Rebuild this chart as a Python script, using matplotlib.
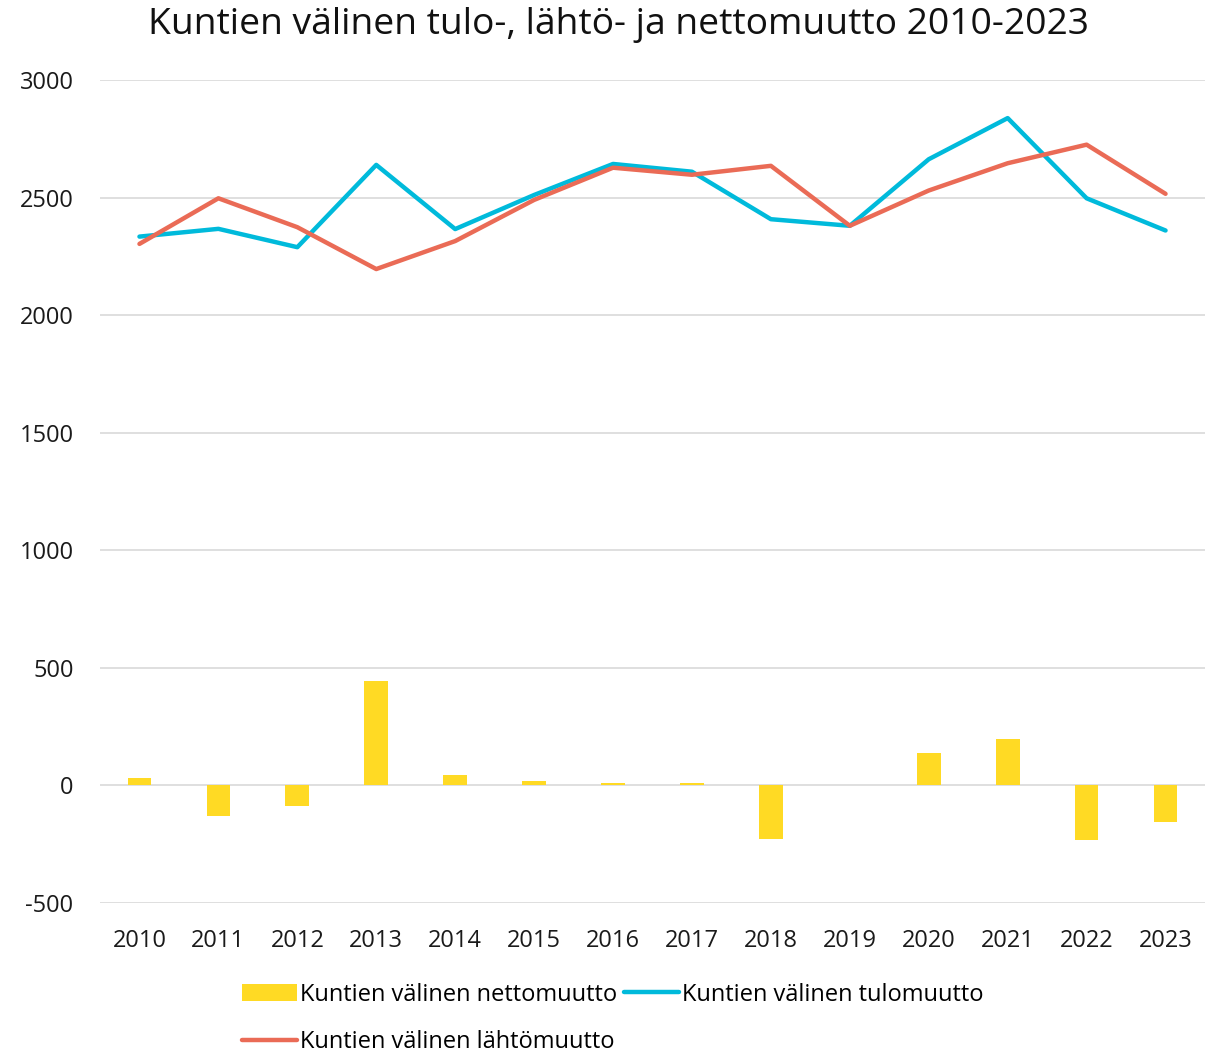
import matplotlib.pyplot as plt
import numpy as np

plt.rcParams['font.family'] = ['Open Sans', 'DejaVu Sans']
plt.rcParams['axes.unicode_minus'] = False

# Data
years = ['2010', '2011', '2012', '2013', '2014', '2015', '2016',
         '2017', '2018', '2019', '2020', '2021', '2022', '2023']
netto = [30, -132, -86, 444, 46, 20, 12, 9, -226, 0, 136, 196, -231, -157]
tulo = [2334, 2367, 2289, 2639, 2366, 2511, 2643,
        2610, 2408, 2380, 2663, 2838, 2497, 2360]
lahto = [2303, 2497, 2374, 2196, 2315, 2490, 2627,
         2597, 2635, 2380, 2530, 2646, 2725, 2516]

fig = plt.figure(figsize=(12.16, 10.53), dpi=100)
ax = fig.add_axes([100 / 1216, 1 - 903 / 1053, 1105 / 1216, 823 / 1053])

x = np.arange(len(years))
ax.bar(x, netto, width=0.3, color='#FFDA24', label='Kuntien välinen nettomuutto', zorder=2)
ax.plot(x, tulo, color='#00BADB', lw=3.2, solid_capstyle='round',
        label='Kuntien välinen tulomuutto', zorder=3)
ax.plot(x, lahto, color='#EA6B56', lw=3.2, solid_capstyle='round',
        label='Kuntien välinen lähtömuutto', zorder=3)

ax.set_xlim(-0.5, len(years) - 0.5)
ax.set_ylim(-500, 3000)
ax.set_yticks(range(-500, 3001, 500))
ax.set_xticks(x)
ax.set_xticklabels(years)
ax.grid(axis='y', color='#d9d9d9', lw=1.2, zorder=0)
ax.set_axisbelow(True)
for s in ax.spines.values():
    s.set_visible(False)
ax.tick_params(axis='both', length=0, labelsize=17, colors='#1a1a1a')
ax.tick_params(axis='y', pad=19)
ax.tick_params(axis='x', pad=19)

fig.suptitle('Kuntien välinen tulo-, lähtö- ja nettomuutto 2010-2023',
             fontsize=26.8, x=618 / 1216, y=1 - 25 / 1053, va='center',
             color='#111111')

h, l = ax.get_legend_handles_labels()
handles = dict(zip(l, h))
# column-first filling: first column netto + lähtö, second column tulo
names = ['Kuntien välinen nettomuutto', 'Kuntien välinen lähtömuutto',
         'Kuntien välinen tulomuutto']
fig.legend([handles[n] for n in names], names, ncol=2, frameon=False,
           loc='center', bbox_to_anchor=(613 / 1216, 1 - 1018.5 / 1053),
           fontsize=17, handlelength=2.3, handletextpad=0.15,
           columnspacing=0.3, labelspacing=1.0)

fig.savefig('out.png', dpi=100)
